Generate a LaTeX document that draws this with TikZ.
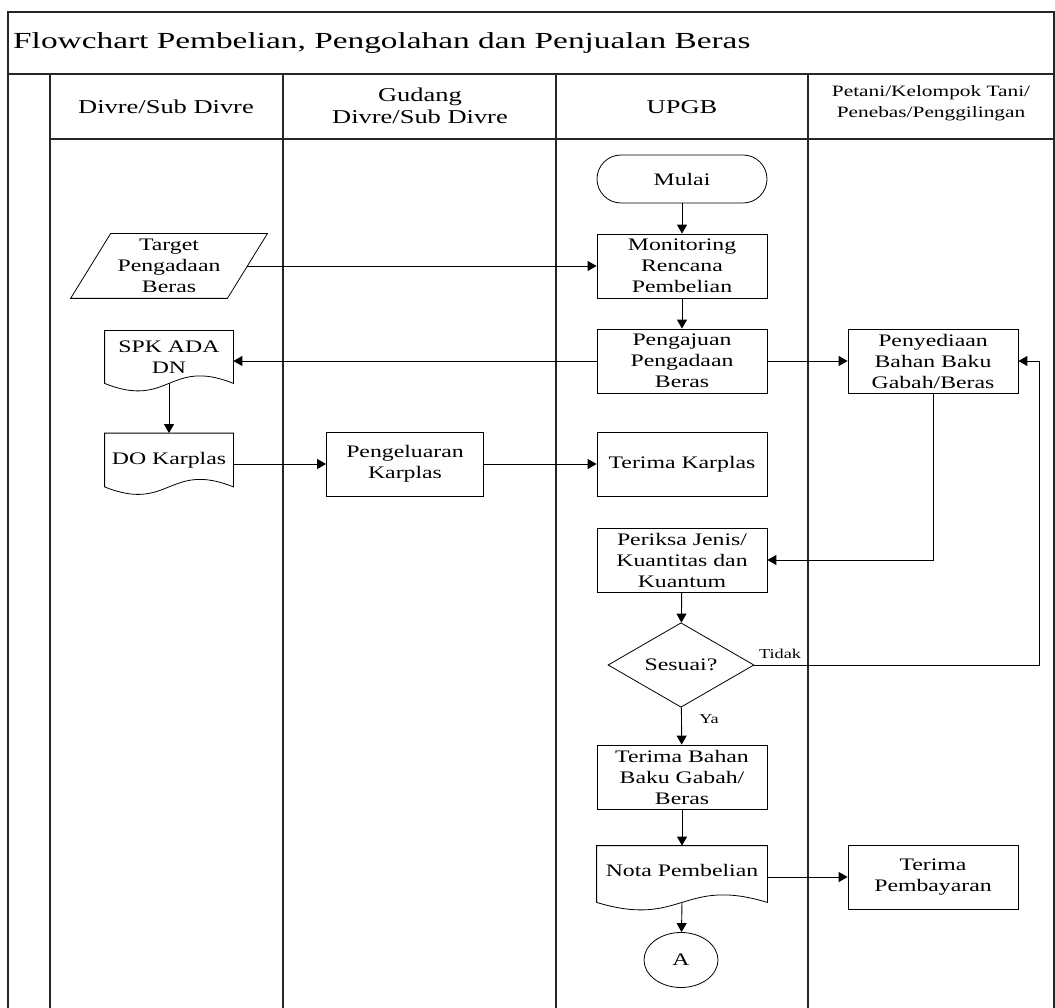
\documentclass[tikz,border=0pt]{standalone}
\usepackage{fontspec}
\setmainfont{Liberation Serif}[FakeStretch=1.35]
\newfontfamily\judulfont{Liberation Serif}[FakeStretch=1.45]
\usetikzlibrary{shapes.geometric,arrows.meta,calc}
\newcommand{\isi}{\fontsize{17.6}{21}\selectfont}
\newcommand{\kepala}{\fontsize{19.6}{22}\selectfont}
\newcommand{\kecil}{\fontsize{13.5}{16}\selectfont}

\begin{document}
\begin{tikzpicture}[x=1pt,y=-1pt,>={Triangle[length=9pt,width=10pt]},
  lajur/.style={line width=1.3pt,draw=black!85},
  kotak/.style={draw,line width=0.8pt,minimum width=170pt,minimum height=64pt,inner sep=0pt,align=center,font=\isi},
  dokumen/.style={kotak,draw=none,minimum width=128pt},
  terminal/.style={kotak,minimum height=48pt,rounded corners=24pt},
  keputusan/.style={diamond,draw,line width=0.8pt,minimum width=146pt,minimum height=83pt,inner sep=0pt,font=\isi},
  konektor/.style={ellipse,draw,line width=0.8pt,minimum width=74pt,minimum height=55pt,inner sep=0pt,font=\isi},
  panah/.style={->,line width=0.9pt}]
  \useasboundingbox (0,0) rectangle (1055,1008);
  % kerangka swimlane
  \draw[lajur] (8,1008) -- (8,12) -- (1054,12) -- (1054,1008);
  \draw[lajur] (8,74) -- (1054,74);
  \draw[lajur] (50,139) -- (1054,139);
  \foreach \x in {50,283,556,808}
    \draw[lajur] (\x,74) -- (\x,1008);
  \node[anchor=west,inner sep=0pt,font=\judulfont\fontsize{23}{26}\selectfont] (judul) at (13,43) {Flowchart Pembelian, Pengolahan dan Penjualan Beras};
  \node[align=center,font=\kepala] (divre) at (166,107) {Divre/Sub Divre};
  \node[align=center,font=\kepala] (gudang) at (420,106) {Gudang\\Divre/Sub Divre};
  \node[align=center,font=\kepala] (upgb) at (682,107) {UPGB};
  \node[align=center,font=\fontsize{15.8}{21}\selectfont] (petani) at (931,103) {Petani/Kelompok Tani/\\Penebas/Penggilingan};

  % simbol
  \node[terminal] (mulai) at (682,179) {Mulai};
  \node[kotak] (monitoring) at (682,266) {Monitoring\\Rencana\\Pembelian};
  \node[kotak] (pengajuan) at (682,361) {Pengajuan\\Pengadaan\\Beras};
  \node[kotak] (penyediaan) at (933,361) {Penyediaan\\Bahan Baku\\Gabah/Beras};
  \node[kotak] (terimakarplas) at (682,464) {Terima Karplas};
  \node[kotak] (periksa) at (682,560) {Periksa Jenis/\\Kuantitas dan\\Kuantum};
  \node[keputusan] (sesuai) at (681,665) {Sesuai?};
  \node[kotak] (terimabahan) at (682,777) {Terima Bahan\\Baku Gabah/\\Beras};
  \node[dokumen,minimum width=170pt,minimum height=56pt,text depth=8pt] (nota) at (682,874) {Nota Pembelian};
  \node[kotak] (bayar) at (933,877) {Terima\\Pembayaran};
  \node[konektor] (a) at (681,960) {A};
  \node[kotak,draw=none,minimum width=156pt] (target) at (169,266) {Target\\Pengadaan\\Beras};
  \node[dokumen,minimum height=52pt] (spk) at (169,357) {SPK ADA\\DN};
  \node[dokumen,minimum height=53pt] (dokarplas) at (169,460) {DO Karplas};
  \node[kotak,minimum width=157pt] (pengeluaran) at (405,464) {Pengeluaran\\Karplas};
  \node[font=\kecil] (tidak) at (780,654) {Tidak};
  \node[font=\kecil] (ya) at (709,719) {Ya};

  % bentuk dokumen dan data
  \foreach \d in {spk,dokarplas,nota}
    \draw[line width=0.8pt] (\d.south east) .. controls ($(\d.south)+(0,-26)$) and ($(\d.south)+(0,26)$) .. (\d.south west) -- (\d.north west) -- (\d.north east) -- cycle;
  \draw[line width=0.8pt] ($(target.south west)+(-20,0)$) -- ($(target.north west)+(20,0)$) -- ($(target.north east)+(20,0)$) -- ($(target.south east)+(-20,0)$) -- cycle;

  % alur
  \draw[panah] (mulai) -- (monitoring);
  \draw[panah] (monitoring) -- (pengajuan);
  \draw[panah] (target.east) -- (monitoring.west);
  \draw[panah] (pengajuan.west) -- (pengajuan.west -| spk.east);
  \draw[panah] (pengajuan.east) -- (penyediaan.west);
  \draw[panah] (spk.south) -- (dokarplas.north);
  \draw[panah] (pengeluaran.west -| dokarplas.east) -- (pengeluaran.west);
  \draw[panah] (pengeluaran.east) -- (terimakarplas.west);
  \draw[panah] (penyediaan.south) |- (periksa.east);
  \draw[panah] (periksa) -- (sesuai);
  \draw[panah] (sesuai.east) -| ($(penyediaan.east)+(21,0)$) -- (penyediaan.east);
  \draw[panah] (sesuai) -- (terimabahan);
  \draw[panah] (terimabahan) -- (nota);
  \draw[panah] (bayar.west -| nota.east) -- (bayar.west);
  \draw[panah] (nota.south) -- (a);
\end{tikzpicture}
\end{document}
